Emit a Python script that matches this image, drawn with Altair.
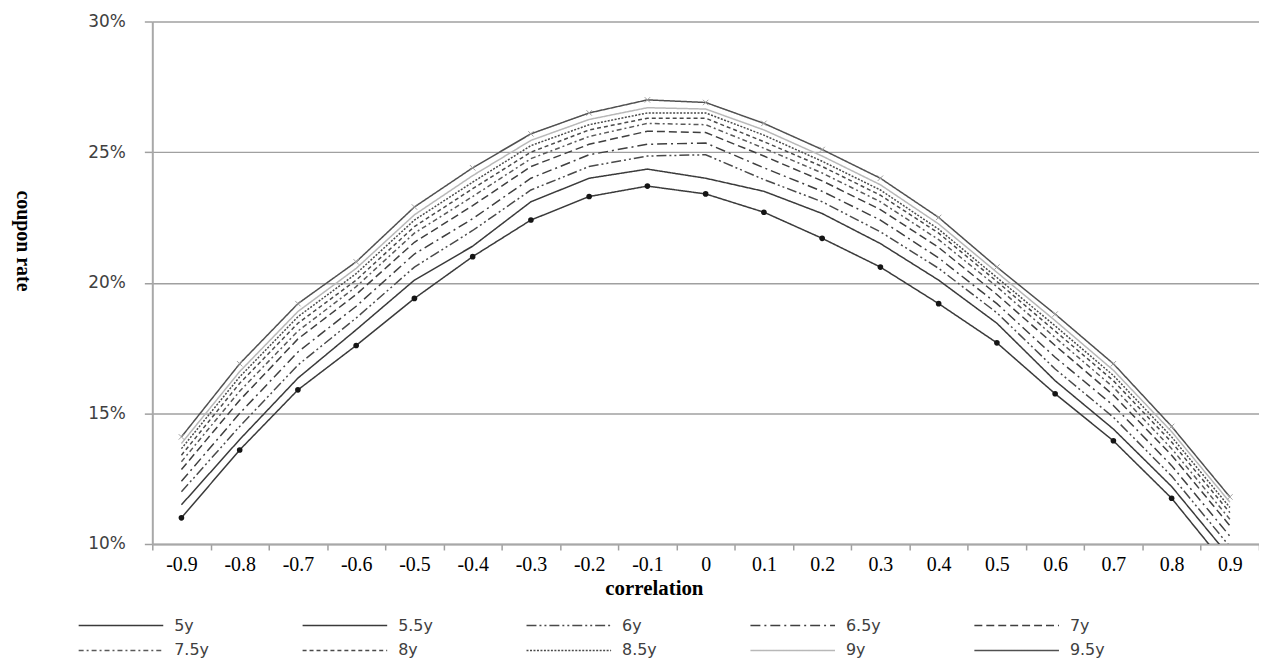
import altair as alt
import pandas as pd

corr = ["-0.9", "-0.8", "-0.7", "-0.6", "-0.5", "-0.4", "-0.3", "-0.2", "-0.1", "0",
        "0.1", "0.2", "0.3", "0.4", "0.5", "0.6", "0.7", "0.8", "0.9"]
series = ["5y", "5.5y", "6y", "6.5y", "7y", "7.5y", "8y", "8.5y", "9y", "9.5y"]

y5 = [11.0, 13.6, 15.9, 17.6, 19.4, 21.0, 22.4, 23.3, 23.7, 23.4, 22.7, 21.7, 20.6, 19.2, 17.7, 15.75, 13.95, 11.75, 9.0]
y55 = [11.5, 14.0, 16.35, 18.2, 20.1, 21.4, 23.1, 24.0, 24.35, 24.0, 23.5, 22.65, 21.5, 20.1, 18.45, 16.25, 14.4, 12.2, 9.5]
y6 = [12.0, 14.5, 16.85, 18.65, 20.6, 22.0, 23.55, 24.45, 24.85, 24.9, 23.95, 23.1, 21.95, 20.55, 18.85, 16.7, 14.85, 12.6, 9.9]
y65 = [12.4, 15.0, 17.35, 19.1, 21.1, 22.45, 24.0, 24.9, 25.3, 25.35, 24.4, 23.5, 22.4, 20.95, 19.2, 17.15, 15.3, 13.0, 10.3]
y7 = [12.85, 15.5, 17.85, 19.55, 21.55, 22.95, 24.45, 25.3, 25.8, 25.75, 24.85, 23.9, 22.8, 21.35, 19.55, 17.6, 15.7, 13.4, 10.7]
y75 = [13.15, 15.85, 18.15, 19.85, 21.9, 23.3, 24.75, 25.6, 26.1, 26.05, 25.15, 24.2, 23.1, 21.65, 19.85, 17.9, 16.0, 13.65, 10.95]
y8 = [13.4, 16.15, 18.45, 20.1, 22.15, 23.6, 25.0, 25.85, 26.3, 26.3, 25.4, 24.45, 23.35, 21.9, 20.05, 18.15, 16.25, 13.9, 11.2]
y85 = [13.65, 16.4, 18.7, 20.35, 22.4, 23.85, 25.25, 26.05, 26.5, 26.5, 25.65, 24.65, 23.55, 22.05, 20.2, 18.35, 16.45, 14.1, 11.4]
y9 = [13.85, 16.6, 18.9, 20.55, 22.6, 24.1, 25.45, 26.25, 26.7, 26.65, 25.85, 24.85, 23.75, 22.25, 20.4, 18.55, 16.65, 14.3, 11.6]
y95 = [14.1, 16.9, 19.2, 20.8, 22.9, 24.4, 25.7, 26.5, 27.0, 26.9, 26.1, 25.1, 24.0, 22.5, 20.6, 18.8, 16.9, 14.5, 11.8]

all_vals = [y5, y55, y6, y65, y7, y75, y8, y85, y9, y95]

line_colors = ["#3a3a3a", "#3a3a3a", "#4a4a4a", "#3f3f3f", "#3f3f3f",
               "#5a5a5a", "#4a4a4a", "#4a4a4a", "#b8b8b8", "#505050"]
line_dashes = [[1, 0], [1, 0], [10, 3, 2, 3, 2, 3], [10, 4, 2, 4], [8, 4],
               [5, 3, 2, 3], [4, 3], [2, 1.5], [1, 0], [1, 0]]

rows = []
for s, vals in zip(series, all_vals):
    for c, v in zip(corr, vals):
        rows.append({"corr": c, "series": s, "rate": v})
df = pd.DataFrame(rows)

legend = alt.Legend(
    title=None, orient="none", legendX=-75, legendY=598, columns=5,
    direction="horizontal",
    symbolType="stroke", symbolSize=7225, symbolStrokeWidth=1.5,
    clipHeight=18, labelOffset=10, labelFont="DejaVu Sans", labelFontSize=16,
    labelColor="#404040", columnPadding=93, rowPadding=7, gridAlign="all",
    padding=0,
)

x_enc = alt.X(
    "corr:O", sort=corr, bandPosition=0.5,
    scale=alt.Scale(type="band", paddingInner=0, paddingOuter=0),
    axis=alt.Axis(
        title="correlation", titleFont="Liberation Serif", titleFontWeight="bold",
        titleFontSize=21, titleColor="#000000", titleX=504, titleY=45,
        titleAlign="center", titleBaseline="middle",
        labelFont="Liberation Serif", labelFontSize=20, labelColor="#000000",
        labelAngle=0, labelPadding=5, labelOverlap=False,
        tickBand="extent", tickSize=6, tickColor="#a0a0a0", tickWidth=1.5,
        domainColor="#a8a8a8", domainWidth=2, grid=False,
    ),
)

y_enc = alt.Y(
    "rate:Q",
    scale=alt.Scale(domain=[10, 30], nice=False, zero=False),
    axis=alt.Axis(
        values=[10, 15, 20, 25, 30], labelExpr="datum.value + '%'",
        labelFont="DejaVu Sans", labelFontSize=17, labelColor="#404040",
        labelPadding=19, tickSize=8, tickColor="#a0a0a0", tickWidth=1.5,
        domainColor="#a8a8a8", domainWidth=2,
        grid=True, gridColor="#a0a0a0", gridWidth=1.5,
        title="coupon rate", titleAngle=90, titleFont="Liberation Serif",
        titleFontWeight="bold", titleFontSize=20, titleColor="#000000",
        titleX=-130, titleY=220, titleAlign="center", titleBaseline="middle",
    ),
)

lines = alt.Chart(df).mark_line(strokeWidth=1.5, clip=True).encode(
    x=x_enc,
    y=y_enc,
    color=alt.Color("series:N", sort=series,
                    scale=alt.Scale(domain=series, range=line_colors), legend=legend),
    strokeDash=alt.StrokeDash("series:N", sort=series,
                              scale=alt.Scale(domain=series, range=line_dashes), legend=legend),
    detail="series:N",
)

pts5 = alt.Chart(df).transform_filter(alt.datum.series == "5y").mark_point(
    filled=True, size=32, color="#151515", opacity=1, clip=True
).encode(x=x_enc, y=y_enc)

pts95 = alt.Chart(df).transform_filter(alt.datum.series == "9.5y").mark_point(
    shape="M-1,-1L1,1M-1,1L1,-1", filled=False, stroke="#a0a0a0", strokeWidth=1,
    size=30, opacity=1, clip=True
).encode(x=x_enc, y=y_enc)

chart = alt.layer(lines, pts5, pts95).properties(
    width=1112, height=525,
    autosize=alt.AutoSizeParams(type="none"),
    padding={"left": 145, "top": 12, "right": 0, "bottom": 117},
    background="white",
).configure_view(stroke=None)

chart.save("out.html", embed_options={"renderer": "svg", "actions": False})
